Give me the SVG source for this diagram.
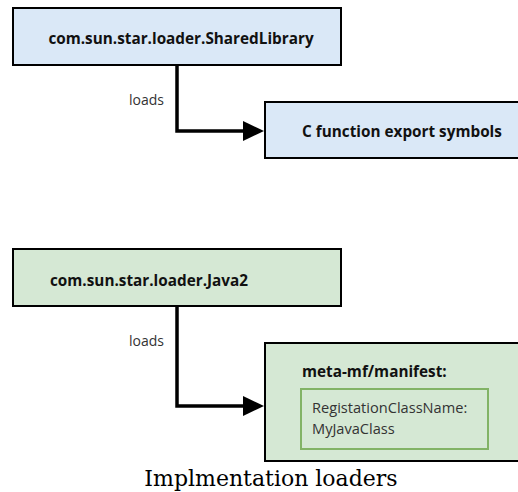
<svg xmlns="http://www.w3.org/2000/svg" width="518" height="492" viewBox="0 0 518 492">
<defs>
<style>
.blue{fill:#dae8f7;stroke:#000;stroke-width:2}
.green{fill:#d5e8d4;stroke:#000;stroke-width:2}
.inner{fill:none;stroke:#82b366;stroke-width:2}
.t{font-family:"Open Sans","Noto Sans",sans-serif;font-size:15.3px;fill:#111;font-weight:bold}
.lbl{font-family:"Open Sans","Noto Sans",sans-serif;font-size:14px;fill:#333}
.in{font-family:"Open Sans","Noto Sans",sans-serif;font-size:14.6px;fill:#333}
.conn{fill:none;stroke:#000;stroke-width:3.5}
.head{fill:#000}
.cap{font-family:"DejaVu Serif",serif;font-size:22px;fill:#000}
</style>
</defs>
<g id="shared-library">
<rect class="blue" x="13" y="8" width="328" height="57"/>
<text class="t" x="181" y="44" text-anchor="middle">com.sun.star.loader.SharedLibrary</text>
</g>
<g id="c-export">
<rect class="blue" x="265" y="102" width="260" height="56"/>
<text class="t" x="402" y="137" text-anchor="middle">C function export symbols</text>
</g>
<g id="java2">
<rect class="green" x="13" y="249" width="328" height="57"/>
<text class="t" x="50" y="286">com.sun.star.loader.Java2</text>
</g>
<g id="manifest">
<rect class="green" x="265" y="343" width="260" height="118"/>
<text class="t" x="302" y="377">meta-mf/manifest:</text>
<rect class="inner" x="301" y="389" width="187" height="60"/>
<text class="in" x="312" y="413">RegistationClassName:</text>
<text class="in" x="312" y="434">MyJavaClass</text>
</g>
<g id="connectors">
<path class="conn" d="M177,65 V131 H246"/>
<path class="head" d="M243,121 L264,131 L243,141 z"/>
<text class="lbl" x="129" y="105">loads</text>
<path class="conn" d="M177,306 V406 H246"/>
<path class="head" d="M243,396 L264,406 L243,416 z"/>
<text class="lbl" x="129" y="346">loads</text>
</g>
<text class="cap" x="271" y="486" text-anchor="middle">Implmentation loaders</text>
</svg>
